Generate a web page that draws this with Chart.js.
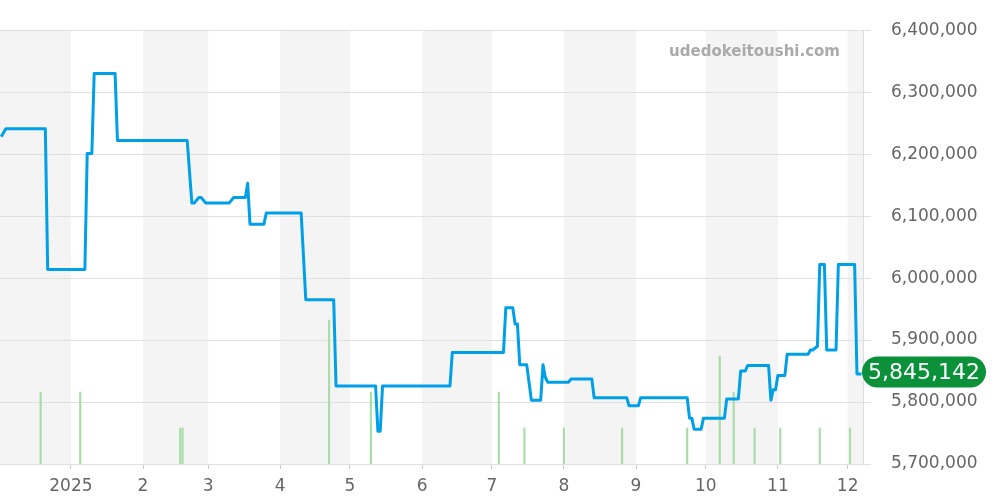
<!DOCTYPE html>
<html>
<head>
<meta charset="utf-8">
<script src="https://cdn.jsdelivr.net/npm/chart.js@4.4.1/dist/chart.umd.min.js"></script>
<style>
  html, body { margin: 0; padding: 0; background: #fff; }
  #wrap { width: 1000px; height: 500px; }
</style>
</head>
<body>
<div id="wrap"><canvas id="priceChart" width="1000" height="500"></canvas></div>
<script>
// days counted from 2024-12-01
var monthStarts = [0, 31, 62, 90, 121, 151, 182, 212, 243, 274, 304, 335, 365];
var monthLabels = ['12', '2025', '2', '3', '4', '5', '6', '7', '8', '9', '10', '11', '12'];

var priceDays = [1, 3, 20, 21, 37, 38, 40, 41, 50, 51, 81, 83, 84, 86, 87, 89, 99, 101, 106, 107, 108, 114, 115,
  130, 132, 144, 145, 162, 163, 164, 165, 194, 195, 217, 218, 221, 222, 223, 224, 227, 229, 233, 234, 235, 236,
  245, 246, 255, 256, 270, 271, 275, 276, 296, 297, 298, 299, 302, 303, 312, 313, 318, 319, 321, 322, 331, 332,
  333, 334, 335, 338, 339, 348, 349, 350, 352, 353, 355, 356, 360, 361, 368, 369, 371];
var prices = [6228000, 6241000, 6241000, 6014000, 6014000, 6201000, 6201000, 6330000, 6330000, 6222000, 6222000,
  6121000, 6121000, 6130000, 6130000, 6121000, 6121000, 6130000, 6130000, 6153000, 6087000, 6087000, 6105000,
  6105000, 5965000, 5965000, 5826000, 5826000, 5753000, 5753000, 5826000, 5826000, 5880000, 5880000, 5952000,
  5952000, 5926000, 5926000, 5860000, 5860000, 5803000, 5803000, 5860000, 5840000, 5832000,
  5832000, 5837000, 5837000, 5807000, 5807000, 5794000, 5794000, 5807000, 5807000, 5774000, 5774000, 5756000,
  5756000, 5774000, 5774000, 5805000, 5805000, 5850000, 5850000, 5859000, 5859000, 5803000,
  5820000, 5820000, 5843000, 5843000, 5877000, 5877000, 5884000, 5884000, 5890000, 6022000, 6022000, 5884000,
  5884000, 6022000, 6022000, 5845142, 5845142];

var volumeDays = [18, 35, 78, 79, 142, 160, 215, 226, 243, 268, 296, 310, 316, 325, 336, 353, 366];
var volumes = [2, 2, 1, 1, 4, 2, 2, 1, 1, 1, 1, 3, 2, 1, 1, 1, 1];

var yTicks = [5700000, 5800000, 5900000, 6000000, 6100000, 6200000, 6300000, 6400000];
var lastPrice = prices[prices.length - 1];

var pricePoints = priceDays.map(function (d, i) { return { x: d, y: prices[i] }; });
var volumePoints = volumeDays.map(function (d, i) { return { x: d, y: volumes[i] }; });

// grey band on every other month
var bandsPlugin = {
  id: 'bands',
  beforeDraw: function (chart) {
    var ctx = chart.ctx;
    var area = chart.chartArea;
    var xs = chart.scales.x;
    ctx.save();
    ctx.fillStyle = '#f4f4f4';
    for (var i = 0; i < monthStarts.length; i += 2) {
      var x1 = Math.max(xs.getPixelForValue(monthStarts[i]), area.left);
      var end = i + 1 < monthStarts.length ? monthStarts[i + 1] : xs.max;
      var x2 = Math.min(xs.getPixelForValue(end), area.right);
      ctx.fillRect(x1, area.top, x2 - x1, area.bottom - area.top);
    }
    ctx.restore();
  }
};

var labelPlugin = {
  id: 'labels',
  afterDraw: function (chart) {
    var ctx = chart.ctx;
    var area = chart.chartArea;
    ctx.save();
    // watermark
    ctx.font = 'bold 15px "DejaVu Sans"';
    ctx.fillStyle = '#aaaaaa';
    ctx.textAlign = 'right';
    ctx.textBaseline = 'middle';
    ctx.fillText('udedokeitoushi.com', 840, 52);

    // last price badge
    var y = chart.scales.y.getPixelForValue(lastPrice) - 2;
    var left = area.right - 1, w = 124, h = 31;
    ctx.fillStyle = '#0b913a';
    ctx.beginPath();
    ctx.roundRect(left, y - h / 2, w, h, h / 2);
    ctx.fill();
    ctx.fillStyle = '#ffffff';
    ctx.font = '22px "DejaVu Sans"';
    ctx.textAlign = 'center';
    ctx.fillText(lastPrice.toLocaleString('en-US'), left + w / 2, y + 1);
    ctx.restore();
  }
};

var ctx = document.getElementById('priceChart').getContext('2d');
var myChart = new Chart(ctx, {
  data: {
    datasets: [{
      type: 'line',
      data: pricePoints,
      yAxisID: 'y',
      borderColor: '#00a0e9',
      borderWidth: 3,
      borderJoinStyle: 'round',
      pointRadius: 0,
      tension: 0,
      order: 0
    }, {
      type: 'bar',
      data: volumePoints,
      yAxisID: 'vol',
      backgroundColor: '#a8dca8',
      barThickness: 1.5,
      order: 1
    }]
  },
  options: {
    responsive: false,
    animation: false,
    layout: { padding: { top: 30, left: 0, right: 0, bottom: 0 } },
    plugins: { legend: { display: false }, tooltip: { enabled: false } },
    scales: {
      x: {
        type: 'linear',
        offset: false,
        min: 0.5,
        max: 371.6,
        afterBuildTicks: function (scale) {
          scale.ticks = monthStarts.slice(1).map(function (v) { return { value: v }; });
        },
        afterFit: function (scale) { scale.height = 36; },
        ticks: {
          autoSkip: false,
          maxRotation: 0,
          padding: 7,
          color: '#666',
          font: { family: 'DejaVu Sans', size: 17 },
          callback: function (v) {
            var i = monthStarts.indexOf(v);
            return i >= 0 ? monthLabels[i] : '';
          }
        },
        grid: { offset: false, drawOnChartArea: false, drawTicks: true, tickLength: 5, color: '#cccccc' },
        border: { display: false }
      },
      y: {
        position: 'right',
        min: 5700000,
        max: 6400000,
        afterBuildTicks: function (scale) {
          scale.ticks = yTicks.map(function (v) { return { value: v }; });
        },
        afterFit: function (scale) { scale.width = 137; },
        ticks: {
          padding: 20,
          color: '#666',
          font: { family: 'DejaVu Sans', size: 17 },
          callback: function (v) { return v.toLocaleString('en-US'); }
        },
        grid: { color: '#e0e0e0', tickLength: 8 },
        border: { display: true, color: '#dddddd' }
      },
      vol: {
        display: false,
        min: 0,
        max: 12.05
      }
    }
  },
  plugins: [bandsPlugin, labelPlugin]
});
</script>
</body>
</html>
